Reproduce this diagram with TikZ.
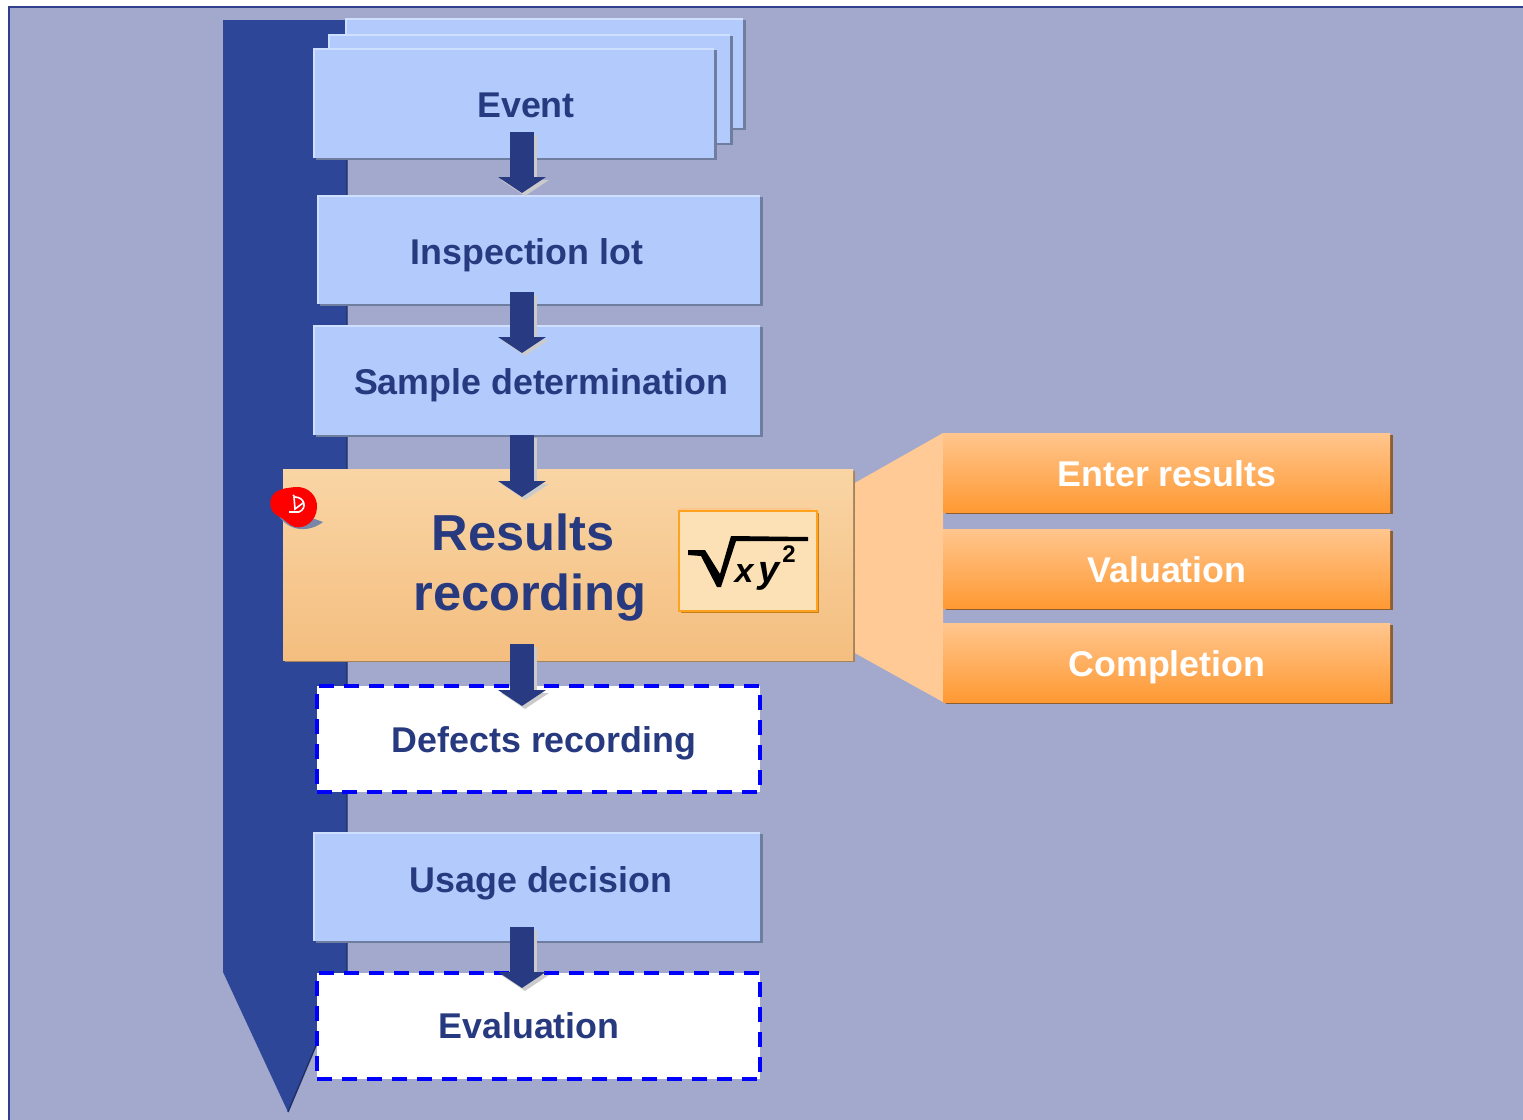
\documentclass[tikz,border=0pt]{standalone}
\usepackage{fontspec}
\setmainfont{Liberation Sans}
\usetikzlibrary{arrows.meta,shadows}
\definecolor{bgc}{HTML}{A3A9CD}
\definecolor{framec}{HTML}{2F3F8F}
\definecolor{spinec}{HTML}{2D4698}
\definecolor{spinedark}{HTML}{1F2F66}
\definecolor{boxc}{HTML}{B3CBFC}
\definecolor{boxlight}{HTML}{CFDFFF}
\definecolor{boxshadow}{HTML}{6F7D9F}
\definecolor{inkc}{HTML}{27397F}
\definecolor{flowc}{HTML}{273A82}
\definecolor{flowshade}{HTML}{CBCBCB}
\definecolor{fanc}{HTML}{FFCA96}
\definecolor{resa}{HTML}{F9D5A5}
\definecolor{resb}{HTML}{F4BE7F}
\definecolor{resshadow}{HTML}{A5835A}
\definecolor{oranga}{HTML}{FFC68E}
\definecolor{orangb}{HTML}{FF9933}
\definecolor{orangeshadow}{HTML}{8E5E2E}
\definecolor{formc}{HTML}{FCE1B6}
\definecolor{formline}{HTML}{FFA31F}
\definecolor{formshadow}{HTML}{C97F1C}
\tikzset{
  x=0.5pt,y=-0.5pt,
  bluebox/.style={rectangle,inner sep=0pt,outer sep=0pt,fill=boxc,
    general shadow={shadow xshift=1.5pt,shadow yshift=-1.2pt,fill=boxshadow},
    path picture={\draw[boxlight,line width=2pt]
      (path picture bounding box.south west)--(path picture bounding box.north west)--(path picture bounding box.north east);}},
  dashbox/.style={rectangle,inner sep=0pt,outer sep=0pt,fill=white,draw=blue,line width=1.6pt,dash pattern=on 7.5pt off 5pt},
  resultbox/.style={rectangle,inner sep=0pt,outer sep=0pt,top color=resa,bottom color=resb,
    general shadow={shadow xshift=0.8pt,shadow yshift=-0.8pt,fill=resshadow}},
  orangebox/.style={rectangle,inner sep=0pt,outer sep=0pt,top color=oranga,bottom color=orangb,
    general shadow={shadow xshift=1.5pt,shadow yshift=-0.8pt,fill=orangeshadow}},
  formulabox/.style={rectangle,inner sep=0pt,outer sep=0pt,fill=formc,draw=formline,line width=1.2pt,
    general shadow={shadow xshift=1pt,shadow yshift=-1pt,fill=formshadow}},
  boxtext/.style={inner sep=0pt,anchor=base,text=inkc,font=\fontsize{17.9}{20}\selectfont\bfseries},
  bigtext/.style={inner sep=0pt,anchor=base,text=inkc,font=\fontsize{25.3}{30}\selectfont\bfseries},
  whitetext/.style={inner sep=0pt,anchor=base,text=white,font=\fontsize{17.9}{20}\selectfont\bfseries},
  formtext/.style={inner sep=0pt,anchor=base,text=black,font=\fontsize{#1}{20}\selectfont\bfseries\itshape},
  formnum/.style={inner sep=0pt,anchor=base,text=black,font=\fontsize{#1}{20}\selectfont\bfseries},
  flowline/.style={line width=12pt,draw=flowc,-{Triangle[width=23.5pt,length=8pt]}},
  flowback/.style={line width=12pt,draw=flowshade,-{Triangle[width=23.5pt,length=8pt]},transform canvas={xshift=1.5pt,yshift=-1.5pt}},
}
% #1 name, #2 style, #3 x1, #4 y1, #5 x2, #6 y2
\newcommand{\pxbox}[6]{\node[#2,minimum width={(#5-#3)*0.5pt},minimum height={(#6-#4)*0.5pt}] (#1) at ({(#3+#5)/2},{(#4+#6)/2}) {};}
% #1 from, #2 to, #3 rise into the source box (pt), #4 drop into the target box (pt)
\newcommand{\flow}[4]{%
  \draw[flowback] ([yshift=#3pt]#1.south -| flowx) -- ([yshift=-#4pt]#2.north -| flowx);
  \draw[flowline] ([yshift=#3pt]#1.south -| flowx) -- ([yshift=-#4pt]#2.north -| flowx);}
\begin{document}
\begin{tikzpicture}
\useasboundingbox (0,0) rectangle (1523,1120);
\fill[white] (0,0) rectangle (1523,1120);
\fill[bgc,draw=framec,line width=0.8pt] (9,1125) -- (9,7) -- (1530,7) -- (1530,1125) -- cycle;
\coordinate (flowx) at (522,0);
% spine
\fill[spinec] (223,20) -- (347,20) -- (347,972) -- (288,1112) -- (223,972) -- cycle;
\draw[spinedark,line width=0.7pt] (347,160) -- (347,972) -- (288,1112);
% stacked event boxes
\pxbox{eventc}{bluebox}{345}{18}{743}{128}
\pxbox{eventb}{bluebox}{328}{34}{730}{143}
\pxbox{event}{bluebox}{313}{48}{714}{158}
\pxbox{inspection}{bluebox}{317}{195}{760}{304}
\pxbox{sample}{bluebox}{313}{325}{760}{435}
% fan and results
\fill[fanc] (853,484) -- (943,433) -- (943,702) -- (853,652) -- cycle;
\pxbox{results}{resultbox}{283}{469}{853}{660}
\pxbox{enter}{orangebox}{943}{433}{1390}{512}
\pxbox{valuation}{orangebox}{943}{529}{1390}{608}
\pxbox{completion}{orangebox}{943}{623}{1390}{702}
\pxbox{defects}{dashbox}{317}{686}{760}{792}
\pxbox{usage}{bluebox}{313}{832}{760}{941}
\pxbox{evaluation}{dashbox}{317}{973}{760}{1079}
% flow arrows
\flow{event}{inspection}{13}{-1}
\flow{inspection}{sample}{6}{14}
\flow{sample}{results}{0}{14}
\flow{results}{defects}{8}{10}
\flow{usage}{evaluation}{7}{7.5}
% labels
\node[boxtext] (tevent) at (526,117) {Event};
\node[boxtext] (tinspection) at (527,264) {Inspection lot};
\node[boxtext] (tsample) at (541,394) {Sample determination};
\node[bigtext] (tresults) at (523,550) {Results};
\node[bigtext] (trecording) at (530,610) {recording};
\node[boxtext] (tdefects) at (544,752) {Defects recording};
\node[boxtext] (tusage) at (541,892) {Usage decision};
\node[boxtext] (tevaluation) at (529,1038) {Evaluation};
\node[whitetext] (tenter) at (1167,486) {Enter results};
\node[whitetext] (tvaluation) at (1167,582) {Valuation};
\node[whitetext] (tcompletion) at (1167,676) {Completion};
% formula button
\fill[oranga] (679,508) rectangle (812,512);
\pxbox{formula}{formulabox}{679}{511}{817}{611}
\fill[black] (688,550) -- (705,550) -- (720,574) -- (731,536) -- (808,537) -- (808,541) -- (736,541) -- (721,587) -- (717,587) -- (701,556) -- (688,555) -- cycle;
\node[formtext=17] (fx) at (744,582) {x};
\node[formtext=19] (fy) at (769,582) {y};
\node[formnum=12] (ftwo) at (789,562) {2};
% red seal
\fill[boxshadow!80!bgc] (278,515) .. controls (290,533) and (310,532) .. (323,522) -- (312,518) -- (300,510) -- cycle;
\fill[red] (295,487) .. controls (309,486) and (318,497) .. (317,508) .. controls (316,522) and (304,529) .. (295,527) .. controls (288,525) and (285,519) .. (278,516) .. controls (268,511) and (268,497) .. (276,492) .. controls (282,488) and (288,488) .. (295,487) -- cycle;
\draw[white,line width=0.8pt] (293,495) -- (295,497) .. controls (304,497) and (308,508) .. (299,512) -- (289,512);
\draw[white,line width=0.8pt] (294,497) -- (295,509) -- (303,503);
\end{tikzpicture}
\end{document}
